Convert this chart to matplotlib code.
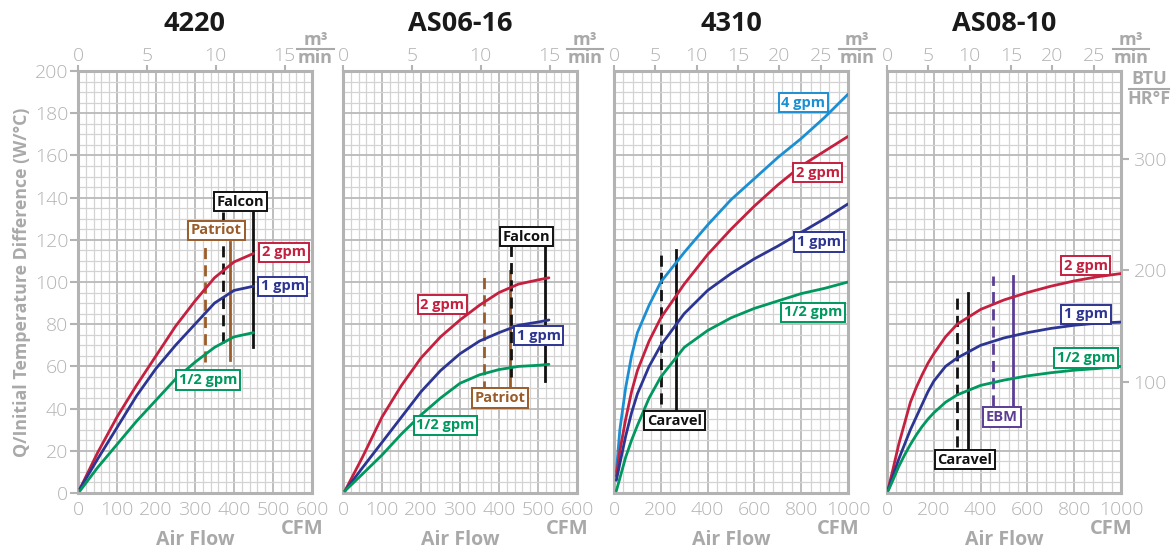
import matplotlib.pyplot as plt
from matplotlib.ticker import MultipleLocator, FixedLocator

plt.rcParams['font.family'] = ['Open Sans', 'DejaVu Sans']

# ---- data (CFM vs W/degC) ----
titles = ['4220', 'AS06-16', '4310', 'AS08-10']

cfm_4220 = [5, 50, 100, 150, 200, 250, 300, 350, 400, 450]
gpm2_4220 = [2, 19, 36, 51, 65, 79, 91, 102, 109.5, 113.5]
gpm1_4220 = [2, 16, 31, 46, 59, 70, 80, 90, 96, 98]
gpmh_4220 = [1, 12, 23, 34, 44, 54, 62, 69, 74, 76]

cfm_as0616 = [5, 50, 100, 150, 200, 250, 300, 350, 400, 450, 500, 528]
gpm2_as0616 = [1, 17, 36, 51, 64, 74, 82, 89, 95, 99, 101, 102]
gpm1_as0616 = [1, 12, 24, 36, 48, 58, 66, 72, 76, 79.5, 81, 82]
gpmh_as0616 = [1, 9, 18, 28, 37, 45, 52, 56, 58.5, 60, 60.5, 61]

cfm_4310 = [10, 25, 50, 75, 100, 150, 200, 300, 400, 500, 600, 700, 800, 900, 1000]
gpm4_4310 = [10, 30, 50, 65, 76, 89, 100, 114, 127, 139, 149, 159, 168, 178, 189]
gpm2_4310 = [8, 20, 35, 48, 58, 72, 83, 99, 113, 125, 136, 146, 155, 162, 169]
gpm1_4310 = [6, 14, 27, 38, 47, 60, 70, 85, 96, 104, 111, 117, 123.5, 130, 137]
gpmh_4310 = [1, 7, 17, 25, 32, 45, 55, 69, 77, 83, 87.5, 91, 94.5, 97, 100]

cfm_as0810 = [5, 25, 50, 75, 100, 125, 150, 175, 200, 250, 300, 400, 500, 600, 700, 800, 900, 1000]
gpm2_as0810 = [2, 11, 23, 33, 43, 50, 56, 61.5, 66, 74, 80, 87, 91.5, 95, 98, 100.5, 102.5, 104]
gpm1_as0810 = [1.5, 8, 16, 23, 30, 36, 42, 48, 53, 60, 64, 70, 73.5, 76, 78, 79.5, 80.5, 81]
gpmh_as0810 = [1, 6, 12.5, 18, 23, 27.5, 31.5, 35, 38, 43, 46.5, 51, 53.5, 55.5, 57, 58.2, 59, 60]

# fan operating lines: name, CFM, low, high (first of each name is dashed)
fan_name_4220 = ['Patriot', 'Patriot', 'Falcon', 'Falcon']
fan_cfm_4220 = [325, 390, 372, 448]
fan_lo_4220 = [62, 63, 71, 69]
fan_hi_4220 = [119, 119, 133, 133]

fan_name_as0616 = ['Patriot', 'Patriot', 'Falcon', 'Falcon']
fan_cfm_as0616 = [362, 428, 431, 519]
fan_lo_as0616 = [48, 49, 55, 53]
fan_hi_as0616 = [105, 105, 117, 117]

fan_name_4310 = ['Caravel', 'Caravel']
fan_cfm_4310 = [200, 263]
fan_lo_4310 = [42, 39]
fan_hi_4310 = [115, 115]

fan_name_as0810 = ['Caravel', 'Caravel', 'EBM', 'EBM']
fan_cfm_as0810 = [298, 348, 451, 538]
fan_lo_as0810 = [22, 20, 41, 40]
fan_hi_as0810 = [95, 95, 103, 103]

CFM_PER_M3MIN = 35.31
BTU_PER_W = 1.8956

RED = '#c4203f'
BLUE = '#2d3592'
GREEN = '#00985e'
CYAN = '#1c8fd2'
BROWN = '#9a5c2a'
PURPLE = '#5b3d94'
BLACK = '#111111'
GRAY = '#a9a9a9'
TICKGRAY = '#b3b3b3'

fan_colors = {'Patriot': BROWN, 'Falcon': BLACK, 'Caravel': BLACK, 'EBM': PURPLE}

W, H = 1174, 550
fig = plt.figure(figsize=(W / 100, H / 100), dpi=100)
lefts = [78, 343, 614, 887]
ax_w, ax_top, ax_bot = 234, 71, 493


def label_box(ax, x, y, txt, color, fs=10.5):
    ax.text(x, y, txt, color=color, fontsize=fs, fontweight='bold', ha='center', va='center',
            zorder=10, bbox=dict(boxstyle='square,pad=0.18', fc='white', ec=color, lw=1.4))


def frac(ax, xa, y_top, y_line, y_bot, top, bottom, width, fs=13):
    # y values are baselines / line position in axes fraction
    ax.text(xa, y_top, top, transform=ax.transAxes, ha='center', va='baseline',
            fontsize=fs, fontweight='bold', color=GRAY, clip_on=False)
    ax.text(xa, y_bot, bottom, transform=ax.transAxes, ha='center', va='baseline',
            fontsize=fs, fontweight='bold', color=GRAY, clip_on=False)
    ax.plot([xa - width / 2, xa + width / 2], [y_line, y_line], transform=ax.transAxes,
            color=GRAY, lw=1.5, clip_on=False)


panels = [
    dict(xmax=600, xmaj=100, xmin=20, mt=[0, 5, 10, 15], cfm=cfm_4220, fx=1.015,
         series=[(gpm2_4220, RED), (gpm1_4220, BLUE), (gpmh_4220, GREEN)],
         fans=(fan_name_4220, fan_cfm_4220, fan_lo_4220, fan_hi_4220)),
    dict(xmax=600, xmaj=100, xmin=20, mt=[0, 5, 10, 15], cfm=cfm_as0616, fx=1.034,
         series=[(gpm2_as0616, RED), (gpm1_as0616, BLUE), (gpmh_as0616, GREEN)],
         fans=(fan_name_as0616, fan_cfm_as0616, fan_lo_as0616, fan_hi_as0616)),
    dict(xmax=1000, xmaj=200, xmin=40, mt=[0, 5, 10, 15, 20, 25], cfm=cfm_4310, fx=1.04,
         series=[(gpm4_4310, CYAN), (gpm2_4310, RED), (gpm1_4310, BLUE), (gpmh_4310, GREEN)],
         fans=(fan_name_4310, fan_cfm_4310, fan_lo_4310, fan_hi_4310)),
    dict(xmax=1000, xmaj=200, xmin=40, mt=[0, 5, 10, 15, 20, 25], cfm=cfm_as0810, fx=1.043,
         series=[(gpm2_as0810, RED), (gpm1_as0810, BLUE), (gpmh_as0810, GREEN)],
         fans=(fan_name_as0810, fan_cfm_as0810, fan_lo_as0810, fan_hi_as0810)),
]

# label positions (CFM, W/degC)
labels = [
    [(528, 114, '2 gpm', RED), (525, 98, '1 gpm', BLUE), (333, 53.5, '1/2 gpm', GREEN),
     (355, 124.5, 'Patriot', BROWN), (416, 138, 'Falcon', BLACK)],
    [(255, 89.3, '2 gpm', RED), (502, 74.6, '1 gpm', BLUE), (263, 32, '1/2 gpm', GREEN),
     (403, 45, 'Patriot', BROWN), (470, 121.4, 'Falcon', BLACK)],
    [(809, 185, '4 gpm', CYAN), (871, 151.8, '2 gpm', RED), (876, 119, '1 gpm', BLUE),
     (850, 85.7, '1/2 gpm', GREEN), (259, 34.2, 'Caravel', BLACK)],
    [(849, 107.8, '2 gpm', RED), (850, 84.7, '1 gpm', BLUE), (850, 64, '1/2 gpm', GREEN),
     (333, 15.7, 'Caravel', BLACK), (491, 36, 'EBM', PURPLE)],
]


def ay(px):
    # pixel row -> axes fraction
    return (ax_bot - px) / (ax_bot - ax_top)


for i, p in enumerate(panels):
    ax = fig.add_axes([lefts[i] / W, 1 - ax_bot / H, ax_w / W, (ax_bot - ax_top) / H])
    ax.set_xlim(0, p['xmax'])
    ax.set_ylim(0, 200)
    ax.xaxis.set_major_locator(MultipleLocator(p['xmaj']))
    ax.xaxis.set_minor_locator(MultipleLocator(p['xmin']))
    ax.yaxis.set_major_locator(MultipleLocator(20))
    ax.yaxis.set_minor_locator(MultipleLocator(5))
    ax.grid(which='minor', color='#d3d3d3', lw=0.9, zorder=0)
    ax.grid(which='major', color='#b9b9b9', lw=1.3, zorder=0)
    ax.set_axisbelow(True)
    for s in ax.spines.values():
        s.set_color(TICKGRAY)
        s.set_linewidth(2.2)
    ax.tick_params(axis='x', which='both', length=0, pad=6, labelsize=14, labelcolor=TICKGRAY)
    ax.tick_params(axis='y', which='minor', length=0)
    if i == 0:
        ax.tick_params(axis='y', which='major', length=6, width=1.5, color=TICKGRAY,
                       labelsize=14, labelcolor=TICKGRAY, pad=1)
        ax.set_ylabel('Q/Initial Temperature Difference (W/°C)', fontsize=12.8,
                      fontweight='bold', color=GRAY, labelpad=3)
    else:
        ax.tick_params(axis='y', which='major', length=0, labelleft=False)
    for lab in ax.get_xticklabels() + ax.get_yticklabels():
        lab.set_fontweight('light')

    # top axis in m3/min
    sec = ax.secondary_xaxis('top', functions=(lambda x: x / CFM_PER_M3MIN,
                                               lambda m: m * CFM_PER_M3MIN))
    sec.xaxis.set_major_locator(FixedLocator(p['mt']))
    sec.tick_params(length=4, width=1.5, color=TICKGRAY, labelsize=14,
                    labelcolor=TICKGRAY, pad=0)
    sec.spines['top'].set_visible(False)
    for lab in sec.get_xticklabels():
        lab.set_fontweight('light')
    frac(ax, p['fx'], ay(45), ay(49), ay(63), 'm³', 'min', 0.155)

    if i == 3:
        sec_y = ax.secondary_yaxis('right', functions=(lambda y: y * BTU_PER_W,
                                                       lambda b: b / BTU_PER_W))
        sec_y.yaxis.set_major_locator(FixedLocator([100, 200, 300]))
        sec_y.tick_params(length=6, width=1.5, color=TICKGRAY, labelsize=14,
                          labelcolor=TICKGRAY, pad=3)
        sec_y.spines['right'].set_visible(False)
        for lab in sec_y.get_yticklabels():
            lab.set_fontweight('light')
        frac(ax, 1.12, ay(84), ay(89), ay(104), 'BTU', 'HR°F', 0.17)

    ax.set_title(titles[i], fontsize=19.5, fontweight='bold', color='#1a1a1a', pad=29)
    ax.text(0.5, -0.112, 'Air Flow', transform=ax.transAxes, ha='center', va='center',
            fontsize=14, fontweight='bold', color=GRAY)
    ax.text(0.96, -0.085, 'CFM', transform=ax.transAxes, ha='center', va='center',
            fontsize=14.5, fontweight='bold', color=GRAY)

    names, xs, los, his = p['fans']
    seen = set()
    for n, x, lo, hi in zip(names, xs, los, his):
        dashed = n not in seen
        seen.add(n)
        ax.plot([x, x], [lo, hi], color=fan_colors[n], lw=2,
                ls=(0, (4, 2.2)) if dashed else '-', zorder=4)

    for ys, c in p['series']:
        ax.plot(p['cfm'], ys, color=c, lw=2, zorder=5, solid_capstyle='round',
                solid_joinstyle='round')

    for x, y, t, c in labels[i]:
        label_box(ax, x, y, t, c)

fig.savefig('out.png', dpi=100)
